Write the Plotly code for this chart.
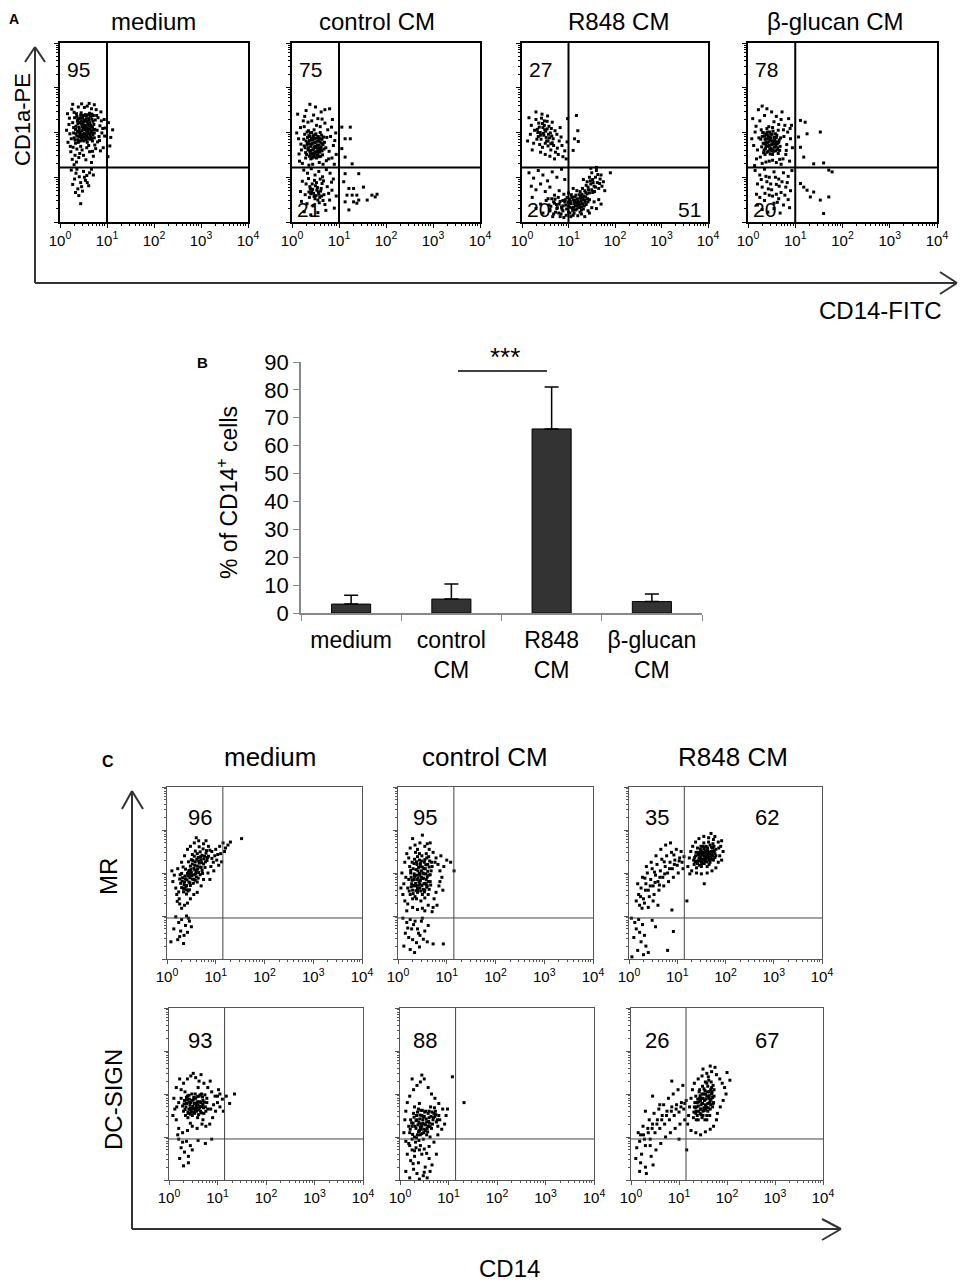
import plotly.graph_objects as go

W, H = 966, 1283
PAGE_OFFSET = 8  # the page body adds this margin around the plot
FONT = "Liberation Sans, Arial, sans-serif"

# ---------------- data ----------------
DECADES = [1, 10, 100, 1000, 10000]
DECADE_TEXT = ["10<sup>0</sup>", "10<sup>1</sup>", "10<sup>2</sup>", "10<sup>3</sup>", "10<sup>4</sup>"]
MINOR = [m * d for d in [1, 10, 100, 1000] for m in range(2, 10)]

A_TITLES = ["medium", "control CM", "R848 CM", "β-glucan CM"]
A_UL = ["95", "75", "27", "78"]
A_LL = ["", "21", "20", "20"]
A_LR = ["", "", "51", ""]
A_GATE_X = 10
A_GATE_Y = 16.6

C_TITLES = ["medium", "control CM", "R848 CM"]
C_ROWS = ["MR", "DC-SIGN"]
C_UL = ["96", "95", "35", "93", "88", "26"]
C_UR = ["", "", "62", "", "", "67"]
C_GATE_X = 14
C_GATE_Y = 9

B_GROUPS = ["medium", "control<br>CM", "R848<br>CM", "β-glucan<br>CM"]
B_MEAN = [3.2, 5.0, 66.0, 4.1]
B_ERR = [3.2, 5.4, 15.0, 2.7]

# dot positions as flat (x, y) pairs, in hundredths of a decade (CD14, marker)
A_MEDIUM = [
    31,233, 37,226, 44,239, 49,221, 56,236, 62,228, 68,241, 34,214, 41,208, 46,219, 53,211, 59,204,
    65,217, 71,206, 29,199, 36,192, 43,201, 48,195, 55,186, 60,197, 66,189, 73,199, 32,183, 39,178,
    45,187, 51,181, 58,178, 63,185, 69,181, 35,242, 45,244, 54,240, 63,243, 38,229, 48,232, 59,219,
    42,222, 52,227, 40,212, 47,204, 57,202, 34,197, 51,198, 64,208, 46,189, 38,184, 54,215, 61,231,
    70,225, 33,207, 50,238, 57,192, 44,233, 67,199, 41,191, 53,206, 27,222, 29,211, 30,188, 33,176,
    36,236, 38,220, 39,203, 42,196, 43,181, 45,226, 47,213, 48,183, 50,224, 51,191, 52,216, 54,197,
    55,229, 56,184, 58,210, 59,239, 60,188, 61,215, 62,199, 63,222, 64,193, 65,236, 66,204, 67,186,
    68,230, 69,212, 70,195, 71,238, 72,218, 73,188, 74,207, 75,228, 30,245, 37,201, 41,231, 46,195,
    49,209, 53,188, 57,224, 60,207, 62,241, 66,213,
    16,242, 19,218, 21,197, 17,178, 23,157, 25,252, 77,251, 81,233, 85,215, 89,199, 80,179, 92,166,
    87,246, 94,229, 28,167, 32,149, 40,144, 47,161, 55,139, 63,157, 71,147, 76,164, 39,257, 58,259,
    67,253, 46,264, 27,263, 83,191, 91,209, 14,205, 74,172, 44,169, 61,171, 36,163, 67,133, 20,232,
    24,186, 26,140, 79,205, 84,182, 88,226, 95,192, 78,238, 22,169, 52,256, 62,265, 73,262, 42,153,
    50,149, 57,166, 69,158, 35,134, 30,128, 86,159, 96,210,
    24,116, 34,109, 41,101, 50,113, 57,104, 67,118, 31,96, 44,88, 54,93, 61,81, 38,74, 48,69, 44,41,
    40,59, 71,105, 27,84, 36,118, 52,100, 63,110, 46,79, 33,66, 58,88,
    103,222, 112,206, 108,189, 102,146, 106,170,
]
A_CONTROL = [
    27,196, 33,189, 39,199, 45,191, 51,197, 57,187, 63,194, 30,181, 36,175, 42,183, 48,177, 54,171,
    60,179, 66,173, 28,166, 34,161, 40,169, 46,163, 52,157, 58,165, 64,159, 31,151, 37,147, 43,153,
    49,145, 55,151, 61,147, 35,204, 47,206, 41,187, 53,181, 38,158, 50,169, 44,176, 32,173, 59,156,
    56,191, 46,149, 29,155, 62,186, 40,141, 52,143, 36,193, 48,187, 44,161, 55,163, 25,185, 26,170,
    29,143, 32,201, 35,166, 37,182, 39,152, 41,174, 42,200, 43,143, 45,184, 47,168, 49,156, 50,195,
    51,178, 53,149, 54,188, 56,158, 57,172, 58,146, 60,200, 61,162, 63,176, 64,185, 65,150, 67,190,
    68,163, 69,178, 33,177, 38,191, 44,147, 46,194, 52,166, 57,181, 62,168, 40,160, 48,153,
    12,241, 18,211, 14,186, 20,161, 16,136, 24,226, 30,249, 38,263, 46,239, 55,231, 62,246, 70,221,
    76,206, 82,191, 88,171, 94,151, 72,166, 78,141, 86,229, 93,199, 66,129, 58,133, 22,131, 44,129,
    70,251, 80,253, 26,213, 90,129, 74,189, 60,213, 34,223, 52,216, 10,199, 19,174, 15,152, 27,236,
    42,226, 50,257, 64,230, 84,212, 91,182, 79,158, 85,143, 73,137, 36,127,
    25,116, 33,109, 41,119, 49,105, 57,113, 65,101, 73,117, 81,109, 88,96, 22,91, 30,85, 38,79,
    44,73, 50,81, 56,67, 62,75, 68,61, 40,63, 47,57, 53,71, 59,55, 36,67, 64,86, 75,79, 85,71,
    28,61, 20,46, 32,41, 45,36, 58,43, 70,39, 80,49, 26,23, 40,16, 55,21, 72,26, 90,31, 48,93,
    60,96, 35,97, 84,89, 42,68, 46,64, 51,59, 54,77, 57,62, 61,69, 39,74, 43,85, 49,52, 52,88,
    63,58, 66,48, 37,55, 55,49, 67,92, 78,64, 18,68, 94,58,
    106,212, 124,212, 113,186, 124,186, 106,164, 113,145, 128,130, 113,108, 142,108, 110,90,
    121,75, 131,75, 152,78, 117,60, 128,60, 138,60, 113,45, 131,45, 142,49, 160,49, 170,60,
    177,56, 181,62, 121,27, 138,42,
]
A_R848 = [
    30,229, 36,221, 42,232, 48,216, 54,225, 33,207, 39,200, 45,211, 51,203, 57,196, 63,209, 35,191,
    41,185, 47,194, 53,181, 59,188, 65,177, 38,173, 44,167, 50,176, 56,170, 62,161, 68,171, 72,156,
    43,241, 30,246, 55,237, 20,216, 18,196, 25,176, 22,161, 75,196, 80,181, 86,171, 92,159, 78,151,
    88,146, 95,141, 70,141, 60,147, 50,151, 40,156, 15,233, 65,223, 98,231, 82,211, 12,181, 97,179,
    37,212, 46,198, 52,189, 58,214, 61,199, 67,186, 44,220, 49,206, 40,194, 56,181, 64,192, 71,204,
    34,200, 48,226, 54,208, 62,175, 76,165, 84,190, 27,205, 32,185,
    117,238, 120,204, 113,186, 121,180, 110,160,
    15,110, 25,98, 35,115, 45,105, 55,92, 65,112, 75,100, 85,118, 92,95, 20,80, 30,72, 40,85,
    50,68, 60,78, 70,60, 80,70, 90,62, 52,48, 58,38, 64,52, 70,42, 76,32, 82,46, 88,36, 93,50,
    60,28, 72,22, 84,18, 40,40, 30,30, 22,55, 45,20, 66,12, 90,10, 78,55, 68,45, 74,39, 86,29,
    62,35, 56,52, 80,40, 94,38, 71,51, 88,48,
    105,41, 110,49, 115,36, 120,46, 125,53, 130,41, 135,49, 108,31, 113,56, 118,29, 123,61, 128,34,
    133,58, 138,39, 102,51, 140,63, 117,43, 122,38, 127,47, 112,41, 100,36, 96,29, 132,29, 106,61,
    119,52, 124,32, 116,60, 111,33, 126,58, 131,50, 136,44, 104,46, 109,26, 114,45, 121,35, 129,62,
    134,36, 141,52, 99,44, 107,55, 113,48, 118,39, 123,44, 128,27, 137,56, 142,45, 103,33, 115,27,
    125,40, 130,55,
    135,70, 142,78, 148,85, 152,95, 158,100, 145,65, 150,72, 155,80, 162,88, 168,96, 140,90,
    145,100, 150,110, 160,115, 170,105, 175,90, 165,75, 156,68, 138,82, 130,75, 125,68, 132,95,
    160,122, 148,120, 172,80, 178,70, 190,110, 153,88, 143,72, 147,92, 158,78, 163,106, 137,66,
    167,86, 152,66,
    60,25, 68,18, 75,30, 82,12, 88,25, 95,15, 100,22, 105,12, 112,20, 120,14, 128,18, 135,12,
    145,20, 150,32, 155,45, 145,50, 142,25, 160,30, 165,50, 170,40, 118,70, 110,75, 100,65, 92,45,
    97,55, 103,20, 110,15, 85,33, 79,20, 125,22,
]
A_GLUCAN = [
    28,206, 34,199, 40,209, 46,201, 52,211, 58,197, 64,205, 30,191, 36,185, 42,193, 48,187, 54,181,
    60,189, 66,183, 32,176, 38,171, 44,179, 50,173, 56,167, 62,175, 68,169, 34,161, 40,156, 46,163,
    52,151, 58,159, 64,153, 44,213, 36,151, 48,196, 42,169, 55,189, 38,179, 62,161, 50,181, 44,187,
    56,174, 52,161, 27,185, 29,168, 31,200, 33,155, 35,192, 37,164, 39,186, 41,201, 43,158, 45,171,
    47,189, 49,165, 51,196, 53,176, 54,158, 57,184, 59,170, 61,194, 63,166, 65,178, 67,160, 69,188,
    35,175, 41,177, 47,152, 53,203, 60,179, 46,184, 50,159, 39,196,
    10,231, 15,201, 12,171, 18,141, 22,251, 30,259, 40,253, 50,246, 60,236, 70,229, 78,216, 84,201,
    90,186, 94,166, 80,151, 88,136, 74,141, 70,129, 60,133, 45,136, 30,131, 20,161, 25,226, 72,246,
    86,231, 92,216, 14,126, 76,191, 82,173, 8,186, 17,214, 23,188, 26,145, 35,238, 55,224, 65,218,
    75,206, 81,160, 89,209, 67,140, 52,138, 38,134,
    15,115, 25,105, 35,118, 45,100, 55,112, 65,96, 75,110, 85,102, 93,115, 20,85, 30,78, 40,90,
    50,72, 60,84, 70,66, 80,78, 90,70, 25,55, 35,48, 45,60, 55,42, 65,52, 75,38, 85,50, 30,28,
    42,22, 55,30, 68,20, 20,38, 60,62, 48,85, 38,102, 58,100, 72,90, 83,88, 28,95, 52,58, 66,80,
    78,60, 88,32, 18,62, 43,74, 62,44, 36,64,
    111,227, 121,223, 125,197, 153,201, 107,190, 111,167, 118,145, 139,130, 160,132, 171,116,
    178,112, 111,86, 125,71, 139,67, 132,56, 153,49, 171,56, 160,19, 118,78,
]
C_MR_MEDIUM = [
    30,166, 35,173, 40,161, 45,179, 38,186, 43,193, 48,171, 52,186, 56,196, 60,206, 50,201, 45,206,
    55,211, 62,216, 66,223, 70,231, 58,226, 64,236, 72,241, 76,233, 80,246, 68,249, 52,221, 48,216,
    42,199, 36,179, 32,189, 28,176, 60,191, 65,201, 70,213, 75,221, 54,176, 58,183, 46,161, 40,151,
    34,156, 50,231, 56,239, 62,245, 74,256, 82,229, 78,213, 68,196, 44,226, 38,209, 30,199, 26,186,
    85,239, 88,253, 66,261, 58,251, 52,243, 47,189, 62,179, 72,206, 40,171, 34,163, 31,181, 37,193,
    41,184, 44,202, 47,177, 49,208, 51,194, 53,229, 55,185, 57,218, 59,199, 61,232, 63,209, 64,188,
    67,214, 69,238, 71,224, 73,199, 77,239, 79,226, 81,252, 83,236, 39,169, 43,158, 36,165, 46,196,
    57,207, 65,228,
    20,150, 25,140, 18,165, 15,195, 22,210, 30,225, 36,240, 42,255, 48,262, 56,270, 65,275, 75,268,
    85,262, 92,250, 98,240, 95,225, 90,215, 100,255, 108,262, 115,270, 125,265, 110,245, 118,250,
    130,272, 153,280, 102,230, 96,205, 84,200, 88,185, 75,185, 70,170, 62,155, 55,150, 48,140,
    42,130, 36,125, 30,118, 26,128, 12,180, 10,205, 80,275, 60,282, 106,218, 112,226, 24,156,
    27,196, 33,214, 21,134, 92,234, 104,243, 120,258,
    18,98, 24,85, 30,92, 38,78, 28,65, 35,55, 22,45, 42,62, 14,70, 8,40, 34,36, 46,88, 50,75,
    40,100, 26,52, 44,95,
]
C_MR_CONTROL = [
    25,150, 30,160, 35,145, 40,155, 45,165, 50,150, 55,160, 60,170, 28,175, 33,185, 38,170, 43,180,
    48,190, 53,175, 58,185, 63,195, 26,200, 31,210, 36,195, 41,205, 46,215, 51,200, 56,210, 61,220,
    29,225, 34,232, 39,220, 44,230, 49,240, 54,225, 59,235, 38,140, 47,135, 55,142, 22,185, 66,180,
    68,205, 42,195, 37,208, 45,175, 52,188, 33,198, 48,205, 40,165, 30,140, 62,150, 20,165, 24,215,
    58,245, 44,245, 36,248, 65,228, 70,215, 52,162, 41,188, 32,170, 57,198, 46,222, 27,190, 64,162,
    23,158, 27,168, 29,183, 31,152, 34,192, 36,176, 38,226, 39,185, 41,160, 42,213, 43,172, 44,199,
    46,183, 47,158, 48,228, 49,171, 50,214, 51,187, 53,198, 54,156, 55,231, 56,176, 57,219, 59,167,
    60,191, 61,204, 62,180, 63,238, 64,214, 66,196, 67,172, 69,225, 26,206, 33,222, 40,238, 31,171,
    37,159, 45,196, 53,210, 58,173,
    10,150, 12,175, 8,200, 14,225, 18,245, 25,258, 35,265, 45,270, 55,262, 64,255, 72,248, 78,235,
    82,220, 86,205, 90,190, 84,170, 78,155, 74,140, 80,125, 72,120, 62,125, 50,118, 40,115, 30,120,
    20,128, 14,135, 94,215, 100,230, 108,225, 115,205, 30,280, 50,288, 66,270, 6,165, 88,240,
    16,190, 22,235, 40,255, 60,268, 76,225, 86,180, 92,160, 70,110, 55,112, 18,112,
    10,95, 18,85, 25,92, 32,80, 40,70, 48,88, 55,65, 62,78, 15,60, 22,50, 30,45, 38,38, 45,55,
    12,30, 25,22, 34,15, 72,35, 93,35, 60,40, 50,95, 28,70, 42,60, 35,88, 20,72, 52,46, 44,28,
]
C_MR_R848 = [
    135,220, 140,228, 145,235, 150,225, 155,240, 160,232, 165,245, 170,238, 175,250, 138,240,
    143,248, 148,255, 153,262, 158,250, 163,258, 168,265, 173,258, 178,245, 150,215, 156,222,
    162,215, 168,225, 174,232, 180,240, 146,245, 152,232, 158,238, 164,236, 170,250, 160,262,
    154,248, 148,238, 142,222, 162,248, 166,230, 157,228, 151,245, 145,228, 172,245, 176,262,
    140,212, 134,230, 180,255, 155,270, 165,272, 136,236, 139,248, 141,226, 144,242, 147,232,
    149,262, 151,228, 153,242, 155,256, 157,234, 159,246, 161,226, 163,252, 165,238, 167,248,
    169,232, 171,260, 173,240, 175,230, 177,252, 137,226, 142,258, 146,218, 150,250, 154,232,
    158,260, 162,240, 166,220, 170,244, 174,268, 178,236, 152,222, 160,252, 156,244, 148,248,
    122,215, 125,235, 128,250, 132,262, 138,272, 145,280, 155,285, 165,282, 175,278, 185,272,
    190,262, 195,250, 188,240, 185,225, 180,212, 172,205, 162,200, 150,198, 140,200, 130,205,
    178,285, 170,292, 186,258, 192,275, 126,198, 192,230,
    20,150, 25,165, 30,140, 35,175, 40,160, 45,185, 50,170, 55,195, 60,180, 65,205, 70,190, 75,215,
    80,200, 85,225, 90,210, 95,230, 100,218, 105,235, 110,225, 18,175, 28,190, 38,200, 48,210,
    58,220, 68,232, 78,240, 88,248, 98,255, 108,250, 22,125, 32,130, 42,145, 52,150, 62,160,
    72,170, 82,180, 92,190, 102,200, 112,210, 46,225, 56,240, 66,255, 76,265, 86,270, 36,215,
    27,118, 15,135, 60,125, 40,120, 50,135, 120,135, 156,175, 89,114, 24,145, 34,160, 44,170,
    54,178, 64,190, 74,198, 84,210, 94,220, 104,228, 114,238, 33,188, 53,202, 73,226, 93,242, 63,172,
    5,95, 12,85, 20,92, 28,80, 15,70, 22,62, 32,55, 10,50, 25,40, 35,30, 18,20, 40,15, 48,90,
    55,75, 92,64, 80,20, 6,5, 30,10,
]
C_DC_MEDIUM = [
    30,160, 35,170, 40,155, 45,180, 50,165, 55,190, 60,175, 65,160, 70,185, 75,170, 32,185, 38,195,
    44,168, 48,150, 52,178, 57,160, 62,195, 68,172, 72,155, 78,190, 34,150, 42,188, 47,200, 53,155,
    58,182, 63,168, 67,200, 36,178, 46,158, 56,172, 61,152, 41,165, 51,192, 66,180, 28,172, 80,165,
    54,200, 39,145, 59,145, 74,198, 31,177, 33,164, 37,186, 39,158, 41,197, 43,175, 45,163, 47,185,
    49,171, 51,157, 53,191, 55,167, 57,178, 59,194, 61,163, 63,182, 65,171, 67,156, 69,193, 71,168,
    73,181, 76,160, 36,192, 44,153, 50,186, 58,168, 64,198, 70,176, 42,181, 54,162,
    10,190, 12,165, 15,140, 20,120, 25,210, 30,225, 38,235, 45,242, 55,238, 62,230, 72,225, 80,215,
    88,205, 95,195, 100,180, 105,170, 110,188, 118,195, 125,178, 135,200, 96,160, 90,145, 84,130,
    76,125, 68,130, 58,120, 48,125, 38,115, 28,110, 18,105, 15,215, 22,235, 50,248, 66,245, 85,230,
    102,210, 112,160, 20,180, 8,150, 92,175, 16,170, 25,190, 33,205, 60,215, 78,180, 86,165,
    100,195, 44,132, 70,140, 105,200,
    20,95, 28,88, 36,90, 44,80, 25,75, 32,65, 40,55, 48,70, 22,50, 30,33, 60,92, 75,85, 88,95, 40,40,
]
C_DC_CONTROL = [
    20,110, 25,125, 30,100, 35,140, 40,115, 45,150, 50,130, 55,105, 60,145, 65,120, 70,155, 75,135,
    80,150, 22,140, 28,155, 33,120, 38,165, 43,130, 48,95, 53,160, 58,125, 63,170, 68,140, 73,160,
    78,125, 25,95, 32,88, 42,105, 52,115, 62,100, 30,170, 40,178, 47,140, 55,135, 37,128, 44,118,
    50,148, 58,155, 36,105, 27,132, 66,158, 46,162, 34,150, 56,120, 41,142, 49,110, 61,132, 72,148,
    18,125, 82,140, 39,92, 45,125, 21,118, 24,133, 26,106, 29,146, 31,125, 33,138, 34,98, 36,158,
    38,112, 39,134, 41,151, 42,122, 43,162, 45,108, 47,132, 48,146, 50,118, 51,158, 53,128, 54,142,
    57,112, 59,136, 60,160, 62,124, 64,148, 67,130, 69,145, 71,168, 74,152, 77,140,
    8,110, 10,140, 12,160, 15,180, 20,195, 28,210, 35,220, 42,228, 50,235, 58,215, 65,200, 72,190,
    80,178, 88,165, 95,150, 92,130, 98,165, 86,118, 78,105, 70,88, 60,78, 50,72, 40,70, 30,68,
    20,80, 12,90, 45,244, 25,235, 108,240, 132,180,
    15,60, 22,45, 30,55, 38,40, 45,60, 52,30, 60,50, 28,25, 35,15, 48,10, 12,20, 66,35, 20,5, 40,2,
    56,5, 75,60, 25,70, 33,75, 42,80, 18,85, 27,38, 55,62, 50,18, 62,20,
]
C_DC_R848 = [
    130,145, 135,155, 140,140, 145,165, 150,150, 155,175, 160,160, 165,185, 170,170, 132,170,
    138,180, 143,190, 148,200, 153,185, 158,195, 163,205, 168,200, 173,210, 136,160, 146,175,
    156,165, 166,175, 142,205, 152,212, 160,218, 150,160, 140,172, 162,190, 170,192, 155,200,
    148,145, 158,150, 145,185, 135,195, 165,165, 172,180, 152,168, 144,155, 160,178, 150,190,
    168,215, 138,150, 158,225, 162,232, 154,140, 131,158, 133,180, 134,168, 137,170, 139,188,
    141,160, 142,182, 144,196, 146,165, 147,190, 149,178, 151,200, 153,162, 154,208, 156,188,
    157,170, 159,205, 161,168, 163,196, 164,180, 166,210, 167,188, 169,205, 171,178, 173,195,
    143,210, 149,218, 155,228, 161,240, 167,228, 171,220, 136,140, 146,152, 158,140, 164,150,
    118,130, 120,150, 122,170, 125,190, 128,210, 132,225, 140,235, 148,242, 158,248, 168,252,
    178,245, 185,235, 190,225, 195,215, 198,200, 192,185, 186,170, 180,155, 178,140, 172,125,
    165,118, 155,112, 145,105, 135,110, 125,115, 175,262, 165,265, 150,258, 206,232, 200,250,
    12,75, 18,90, 22,60, 26,105, 30,80, 35,120, 40,95, 45,130, 50,110, 55,140, 60,120, 65,150,
    70,130, 75,160, 80,140, 85,170, 90,150, 95,175, 100,158, 105,180, 110,165, 115,185, 15,110,
    25,125, 38,140, 48,155, 58,165, 68,175, 78,190, 88,200, 98,210, 108,220, 10,50, 20,40, 30,30,
    42,55, 52,70, 62,85, 72,100, 82,110, 92,120, 102,130, 112,140, 32,15, 18,20, 46,35, 60,175,
    85,230, 45,195, 30,160, 100,95, 116,70, 20,105, 28,95, 36,110, 44,120, 54,130, 64,140, 74,150,
    84,160, 94,165, 104,170, 112,178, 40,80,
]

A_DOTS = [A_MEDIUM, A_CONTROL, A_R848, A_GLUCAN]
C_DOTS = [C_MR_MEDIUM, C_MR_CONTROL, C_MR_R848, C_DC_MEDIUM, C_DC_CONTROL, C_DC_R848]

# ---------------- layout geometry (pixels) ----------------
A_BOX_X = [(60, 248), (292, 480), (522, 708), (748, 937)]
A_BOX_Y = (43, 222)
A_TITLE_X = [153, 377, 618, 835]
C_BOX_X = [(167, 362), (398, 593), (629, 822), (169, 363), (400, 594), (631, 823)]
C_BOX_Y = [(787, 959), (787, 959), (787, 959), (1008, 1180), (1008, 1180), (1008, 1180)]
C_TITLE_X = [270, 485, 733]
C_UL_X = [200, 425, 657, 200, 425, 657]


def fx(p):
    return (p - PAGE_OFFSET) / W


def fy(p):
    return 1 - (p - PAGE_OFFSET) / H


fig = go.Figure()
layout = {}
annotations = []
shapes = []


def ann(text, x, y, size, angle=0, bold=False):
    if bold:
        text = "<b>" + text + "</b>"
    annotations.append(dict(text=text, x=fx(x), y=fy(y), xref="paper", yref="paper",
                            showarrow=False, textangle=angle, xanchor="center", yanchor="middle",
                            font=dict(family=FONT, size=size, color="black")))


def line(x0, y0, x1, y1, width=2, color="#333333"):
    shapes.append(dict(type="line", xref="paper", yref="paper", x0=fx(x0), y0=fy(y0),
                       x1=fx(x1), y1=fy(y1), line=dict(color=color, width=width)))


def flow_panel(n, bx, by, dots, gx, gy, heavy):
    lc = "black" if heavy else "#555555"
    lw = 1.5 if heavy else 1
    common = dict(type="log", range=[0, 4], showgrid=False, zeroline=False, showline=True,
                  mirror=True, linecolor=lc, linewidth=lw, ticks="outside", ticklen=4,
                  tickcolor=lc, tickwidth=1, automargin=False,
                  minor=dict(tickmode="array", tickvals=MINOR, ticks="outside", ticklen=2,
                             tickcolor=lc, tickwidth=1))
    sfx = "" if n == 1 else str(n)
    layout["xaxis" + sfx] = dict(common, domain=[fx(bx[0]), fx(bx[1])], anchor="y" + sfx,
                                 tickmode="array", tickvals=DECADES, ticktext=DECADE_TEXT,
                                 tickfont=dict(family=FONT, size=15, color="black"))
    layout["yaxis" + sfx] = dict(common, domain=[fy(by[1]), fy(by[0])], anchor="x" + sfx,
                                 tickmode="array", tickvals=DECADES, showticklabels=False)
    xs = [10 ** (v / 100) for v in dots[0::2]]
    ys = [10 ** (v / 100) for v in dots[1::2]]
    fig.add_trace(go.Scatter(x=xs, y=ys, mode="markers", xaxis="x" + sfx, yaxis="y" + sfx,
                             marker=dict(symbol="square", size=3, color="black", line=dict(width=0)),
                             hoverinfo="skip"))
    gw = 2 if heavy else 1
    gc = "black" if heavy else "#444444"
    fig.add_trace(go.Scatter(x=[gx, gx], y=[1, 10000], mode="lines", xaxis="x" + sfx, yaxis="y" + sfx,
                             line=dict(color=gc, width=gw), hoverinfo="skip"))
    fig.add_trace(go.Scatter(x=[1, 10000], y=[gy, gy], mode="lines", xaxis="x" + sfx, yaxis="y" + sfx,
                             line=dict(color=gc, width=gw), hoverinfo="skip"))


# ---------------- panel A ----------------
for i in range(4):
    flow_panel(i + 1, A_BOX_X[i], A_BOX_Y, A_DOTS[i], A_GATE_X, A_GATE_Y, True)
    ann(A_TITLES[i], A_TITLE_X[i], 22, 24)
    left, right = A_BOX_X[i]
    ann(A_UL[i], left + 18, 70, 21)
    if A_LL[i]:
        ann(A_LL[i], left + 16, 210, 21)
    if A_LR[i]:
        ann(A_LR[i], right - 19, 210, 21)

ann("A", 14, 19, 14, bold=True)
ann("CD1a-PE", 23, 120, 22, angle=-90)
ann("CD14-FITC", 880, 311, 24)
line(35, 283, 35, 47)
line(35, 47, 25, 62)
line(35, 47, 45, 62)
line(35, 283, 957, 283)
line(957, 283, 940, 272)
line(957, 283, 940, 294)

# ---------------- panel B ----------------
fig.add_trace(go.Bar(x=B_GROUPS, y=B_MEAN, xaxis="x5", yaxis="y5", width=0.39,
                     marker=dict(color="#333333", line=dict(color="black", width=1)),
                     error_y=dict(type="data", array=B_ERR, arrayminus=[0] * 4, symmetric=False,
                                  color="black", thickness=1.5, width=7),
                     hoverinfo="skip"))
layout["xaxis5"] = dict(domain=[fx(301), fx(702)], anchor="y5", type="category",
                        range=[-0.5, 3.5], showline=True, linecolor="#888888", linewidth=1.5,
                        ticks="outside", tickson="boundaries", ticklen=6, tickcolor="#888888",
                        ticklabelstandoff=6, showgrid=False, automargin=False,
                        tickfont=dict(family=FONT, size=23, color="black"))
layout["yaxis5"] = dict(domain=[fy(613), fy(362)], anchor="x5", range=[0, 90], dtick=10,
                        showline=True, linecolor="#888888", linewidth=1.5, ticks="outside",
                        ticklen=6, tickcolor="#888888", showgrid=False, zeroline=False,
                        automargin=False, tickfont=dict(family=FONT, size=22, color="black"))
ann("B", 202, 362, 15, bold=True)
ann("% of CD14<sup>+</sup> cells", 227, 493, 23, angle=-90)
line(458, 371, 547, 371, width=1.5, color="black")
ann("***", 505, 357, 26)

# ---------------- panel C ----------------
for i in range(6):
    flow_panel(i + 6, C_BOX_X[i], C_BOX_Y[i], C_DOTS[i], C_GATE_X, C_GATE_Y, False)
    ty = 817 if i < 3 else 1040
    ann(C_UL[i], C_UL_X[i], ty, 22)
    if C_UR[i]:
        ann(C_UR[i], 767, ty, 22)
for j in range(3):
    ann(C_TITLES[j], C_TITLE_X[j], 757, 26)

ann("C", 108, 762, 16, bold=True)
ann(C_ROWS[0], 108, 877, 24, angle=-90)
ann(C_ROWS[1], 113, 1100, 24, angle=-90)
ann("CD14", 510, 1268, 24)
line(132, 1229, 132, 791)
line(132, 791, 122, 809)
line(132, 791, 143, 809)
line(132, 1229, 841, 1229)
line(841, 1229, 822, 1219)
line(841, 1229, 822, 1240)

fig.update_layout(width=W, height=H, margin=dict(l=0, r=0, t=0, b=0, autoexpand=False),
                  showlegend=False, template="none",
                  paper_bgcolor="white", plot_bgcolor="white",
                  font=dict(family=FONT, color="black"),
                  annotations=annotations, shapes=shapes, **layout)

fig.write_html("out.html")
